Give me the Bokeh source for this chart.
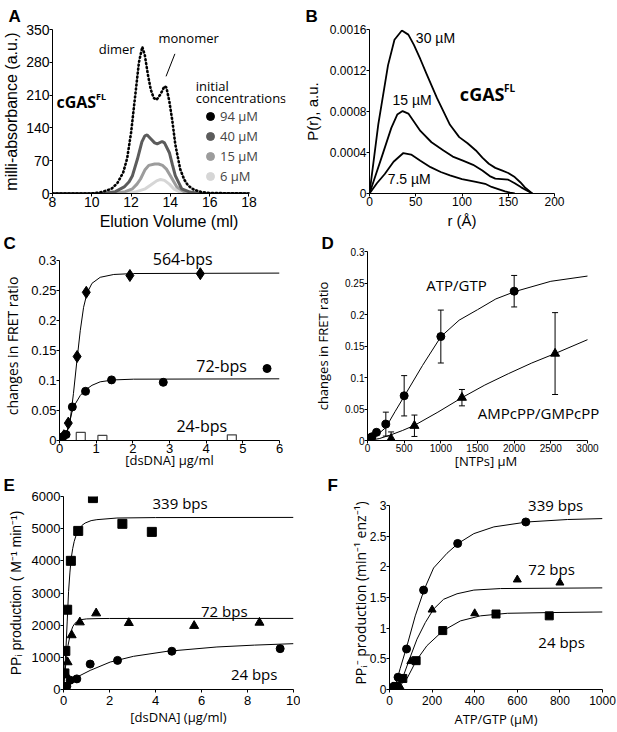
from bokeh.plotting import figure
from bokeh.layouts import column, row
from bokeh.models import (Range1d, FixedTicker, CustomJSTickFormatter, Label, Whisker,
                          ColumnDataSource, TeeHead, Legend, LegendItem)
from bokeh.embed import file_html
from bokeh.resources import INLINE

# ---------------- data ----------------
# A: size-exclusion profiles (elution volume ml, milli-absorbance)
a94_x = [8, 10.0, 10.5, 11.0, 11.3, 11.6, 11.8, 12.0, 12.2, 12.4, 12.57, 12.7, 12.85, 13.0, 13.15, 13.3, 13.5, 13.7, 13.8, 13.95, 14.1, 14.25, 14.5, 14.7, 14.9, 15.2, 15.6, 16, 18]
a94_y = [0, 0, 3, 10, 22, 45, 75, 130, 205, 280, 313, 295, 255, 222, 204, 200, 212, 229, 226, 196, 155, 105, 52, 30, 17, 8, 3, 1, 0]
a40_x = [8, 10.5, 11.2, 11.65, 11.9, 12.07, 12.32, 12.55, 12.7, 12.82, 13.0, 13.2, 13.33, 13.58, 13.7, 13.95, 14.1, 14.25, 14.58, 15.0, 15.5, 18]
a40_y = [0, 0, 4, 14, 25, 38, 73, 110, 123, 125, 117, 108, 106, 111, 108, 87, 62, 38, 10, 3, 0, 0]
a15_x = [8, 11.0, 11.7, 12.07, 12.3, 12.48, 12.7, 12.9, 13.2, 13.4, 13.6, 13.8, 14.0, 14.33, 14.7, 15.2, 18]
a15_y = [0, 0, 4, 10, 20, 31, 50, 60, 63, 63, 60, 52, 38, 14, 4, 0, 0]
a6_x = [8, 11.5, 12.2, 12.72, 13.0, 13.3, 13.5, 13.7, 13.95, 14.17, 14.5, 15.0, 18]
a6_y = [0, 0, 3, 10, 18, 27, 30, 28, 20, 10, 3, 0, 0]
a_labels = ["94 µM", "40 µM", "15 µM", "6 µM"]
a_colors = ["#000000", "#5c5c5c", "#9c9c9c", "#d6d6d6"]

# B: pair distance distributions P(r)
b30_r = [0, 9.5, 20, 27, 35, 42, 48, 55, 62, 73, 87, 97, 106, 115, 122, 129, 136, 143, 150, 157, 163, 168, 176]
b30_p = [0, 0.000675, 0.00125, 0.0015, 0.00159, 0.00155, 0.00145, 0.00131, 0.00116, 0.00093, 0.00067, 0.00055, 0.00049, 0.00042, 0.00035, 0.00029, 0.00025, 0.000225, 0.0002, 0.00016, 0.00011, 0.00006, 0]
b15_r = [0, 13, 23.6, 30, 35.8, 42, 55, 67, 80, 90, 101, 112, 122, 130, 136, 143, 150, 157, 164, 170, 176]
b15_p = [0, 0.00035, 0.00064, 0.00077, 0.000804, 0.00078, 0.00061, 0.0005, 0.00042, 0.00036, 0.00032, 0.00028, 0.000225, 0.00017, 0.000145, 0.00014, 0.000135, 0.0001, 0.00006, 0.00003, 0]
b7_r = [0, 8, 16.5, 26, 36.6, 45, 55, 66, 77, 87, 100, 115, 125, 132, 140, 146.5, 152, 157]
b7_p = [0, 0.0001, 0.00019, 0.00031, 0.000395, 0.00038, 0.00032, 0.000257, 0.00021, 0.000177, 0.00014, 0.000113, 0.000095, 0.000064, 0.00004, 0.00002, 0.000008, 0]

# C: FRET change vs dsDNA
c564_x = [0, 0.06, 0.12, 0.24, 0.48, 0.73, 1.92, 3.84]
c564_y = [0, 0.003, 0.008, 0.029, 0.14, 0.247, 0.275, 0.278]
c72_x = [0, 0.04, 0.09, 0.18, 0.35, 0.71, 1.42, 2.83, 5.66]
c72_y = [0, 0.003, 0.006, 0.01, 0.056, 0.082, 0.101, 0.097, 0.12]
c24_x = [0.58, 1.17, 4.7]
c24_y = [0.006, 0.001, 0.002]
c564_fit_x = [0, 0.11, 0.2, 0.29, 0.38, 0.475, 0.566, 0.657, 0.75, 0.886, 1.11, 1.48, 2.02, 6.0]
c564_fit_y = [0, 0.004, 0.014, 0.033, 0.078, 0.133, 0.183, 0.222, 0.2456, 0.262, 0.272, 0.2767, 0.2783, 0.279]
c72_fit_x = [0, 0.156, 0.246, 0.338, 0.43, 0.566, 0.703, 0.886, 1.11, 1.48, 2.02, 6.0]
c72_fit_y = [0, 0.0056, 0.022, 0.047, 0.061, 0.075, 0.084, 0.092, 0.0978, 0.101, 0.1022, 0.1028]

# D: FRET change vs NTPs
d_atp_x = [0, 31, 62, 123, 250, 500, 1000, 2000]
d_atp_y = [0, 0.004, 0.006, 0.013, 0.026, 0.071, 0.165, 0.237]
d_atp_err = [0, 0, 0, 0.003, 0.019, 0.032, 0.042, 0.025]
d_amp_x = [0, 322, 640, 1288, 2558]
d_amp_y = [0, 0.0026, 0.0234, 0.068, 0.138]
d_amp_err = [0, 0.011, 0.017, 0.013, 0.065]
d_atp_fit_x = [0, 60, 125, 250, 375, 505, 750, 1002, 1250, 1500, 1750, 2015, 2500, 3000]
d_atp_fit_y = [0, 0.002, 0.008, 0.0207, 0.0457, 0.071, 0.119, 0.165, 0.191, 0.2076, 0.2247, 0.2366, 0.2527, 0.261]
d_amp_fit_x = [0, 160, 320, 480, 640, 960, 1288, 1600, 1920, 2240, 2558, 3000]
d_amp_fit_y = [0, 0.003, 0.009, 0.016, 0.024, 0.045, 0.068, 0.088, 0.106, 0.123, 0.138, 0.160]

# E: PPi production vs dsDNA
e339_x = [0, 0.04, 0.08, 0.16, 0.32, 0.64, 1.28, 2.56, 3.84]
e339_y = [80, 500, 1200, 2480, 4000, 4930, 5950, 5150, 4900]
e72_x = [0, 0.089, 0.1775, 0.355, 0.71, 1.42, 2.84, 5.68, 8.52]
e72_y = [0, 480, 850, 1690, 2090, 2370, 2070, 1980, 2080]
e24_x = [0, 0.073, 0.145, 0.29, 0.58, 1.16, 2.35, 4.71, 9.42]
e24_y = [0, 50, 100, 290, 330, 790, 905, 1190, 1270]
e339_fit_x = [0, 0.05, 0.10, 0.16, 0.22, 0.28, 0.335, 0.4, 0.465, 0.55, 0.65, 0.8, 0.94, 1.2, 1.45, 2.32, 4, 10]
e339_fit_y = [0, 600, 1166, 2100, 3040, 3650, 4082, 4380, 4603, 4800, 4968, 5100, 5175, 5250, 5280, 5331, 5345, 5350]
e72_fit_x = [0, 0.05, 0.1, 0.2, 0.3, 0.4, 0.5, 0.65, 0.8, 1.0, 1.5, 2, 10]
e72_fit_y = [0, 420, 800, 1380, 1740, 1950, 2060, 2140, 2175, 2195, 2205, 2208, 2210]
e24_fit_x = [0, 0.1, 0.29, 0.58, 1.16, 2.03, 3.04, 4.5, 6.67, 8.3, 10]
e24_fit_y = [0, 90, 228, 384, 594, 853, 1031, 1187, 1322, 1380, 1425]

# F: PPi production vs ATP/GTP
f339_x = [0, 20, 40, 80, 160, 320, 640]
f339_y = [0, 0.05, 0.2, 0.66, 1.62, 2.38, 2.73]
f72_x = [0, 25, 37.5, 50, 100, 200, 400, 600, 800]
f72_y = [0, 0.02, 0.04, 0.04, 0.46, 1.3, 1.24, 1.79, 1.74]
f24_x = [0, 15, 31, 62.5, 125, 250, 500, 750]
f24_y = [0, 0.02, 0.05, 0.18, 0.47, 0.96, 1.23, 1.2]
f339_fit_x = [0, 27, 50, 82, 121, 163, 207, 270, 322, 396, 490, 647, 836, 1000]
f339_fit_y = [0, 0.053, 0.34, 0.71, 1.2, 1.63, 1.98, 2.22, 2.38, 2.54, 2.65, 2.73, 2.77, 2.785]
f72_fit_x = [0, 35, 66, 97.5, 129, 168, 207, 254, 317, 396, 521, 1000]
f72_fit_y = [0, 0.043, 0.23, 0.53, 0.82, 1.09, 1.31, 1.47, 1.56, 1.62, 1.645, 1.656]
f24_fit_x = [0, 42, 82, 126, 176, 251, 333, 427, 553, 741, 1000]
f24_fit_y = [0, 0.043, 0.177, 0.473, 0.715, 0.957, 1.118, 1.2, 1.242, 1.253, 1.263]

# ---------------- helpers ----------------
TICKF = "Liberation Sans"
SANS = "Open Sans"
FMT = "return String(+tick.toFixed(6));"


def make_fig(w, h, xr, yr, xt, yt, borders, tick_size, xlabel, ylabel,
             xfont, yfont, xsize, ysize, letter, letter_off, letter_standoff,
             x_std=(0, 0), y_std=(0, 0), xbounds=None, ybounds=None):
    bl, br, bt, bb = borders
    p = figure(width=w, height=h, x_range=Range1d(*xr), y_range=Range1d(*yr),
               output_backend="svg", toolbar_location=None,
               min_border_left=bl, min_border_right=br,
               min_border_top=bt, min_border_bottom=bb)
    p.xgrid.visible = False
    p.ygrid.visible = False
    p.outline_line_color = None
    p.background_fill_color = "white"
    p.border_fill_color = "white"
    p.title.text = letter
    p.title.text_font = TICKF
    p.title.text_font_size = "17px"
    p.title.text_font_style = "bold"
    p.title.text_color = "black"
    p.title.align = "left"
    p.title.offset = letter_off
    p.title.standoff = letter_standoff
    for ax, ticks, lab, font, size, std, bnds in (
            (p.xaxis[0], xt, xlabel, xfont, xsize, x_std, xbounds),
            (p.yaxis[0], yt, ylabel, yfont, ysize, y_std, ybounds)):
        ax.ticker = FixedTicker(ticks=ticks)
        ax.formatter = CustomJSTickFormatter(code=FMT)
        ax.major_label_text_font = TICKF
        ax.major_label_text_font_size = f"{tick_size}px"
        ax.major_label_text_color = "black"
        ax.major_tick_in = 0
        ax.major_tick_out = 3
        ax.minor_tick_in = 0
        ax.minor_tick_out = 0
        ax.axis_line_color = "black"
        ax.major_tick_line_color = "black"
        ax.axis_label = lab
        ax.axis_label_text_font = font
        ax.axis_label_text_font_size = f"{size}px"
        ax.axis_label_text_font_style = "normal"
        ax.axis_label_text_color = "black"
        ax.major_label_standoff = std[0]
        ax.axis_label_standoff = std[1]
        if bnds is not None:
            ax.bounds = bnds
    return p


def txt(p, x, y, s, size, font=SANS, style="normal", align="center", baseline="middle"):
    p.add_layout(Label(x=x, y=y, text=s, text_font=font, text_font_size=f"{size}px",
                       text_font_style=style, text_align=align,
                       text_baseline=baseline, text_color="black"))


# ---------------- A ----------------
pa = make_fig(300, 232, (8, 19.86), (0, 350), list(range(8, 19, 2)), list(range(0, 351, 70)),
              (49, 15, 29, 36), 14, "Elution Volume (ml)", "milli-absorbance (a.u.)",
              TICKF, TICKF, 16, 16, "A", -44, 8, x_std=(0, 3), y_std=(0, 3),
              xbounds=(8, 18))
pa.line(a6_x, a6_y, line_color=a_colors[3], line_width=3)
pa.line(a15_x, a15_y, line_color=a_colors[2], line_width=3)
pa.line(a40_x, a40_y, line_color=a_colors[1], line_width=3)
pa.line(a94_x, a94_y, line_color=a_colors[0], line_width=2.6, line_dash="1 3", line_cap="round")
key_r = []
for xs, ys, c in ((a94_x, a94_y, a_colors[0]), (a40_x, a40_y, a_colors[1]),
                  (a15_x, a15_y, a_colors[2]), (a6_x, a6_y, a_colors[3])):
    key_r.append(pa.scatter(xs, ys, size=9, color=c, visible=False))
leg = Legend(items=[LegendItem(label=l, renderers=[r]) for l, r in zip(a_labels, key_r)],
             location=(148, 7), orientation="vertical", padding=0, margin=0, spacing=0,
             glyph_width=20, glyph_height=20, label_height=20, label_standoff=0,
             border_line_color=None, background_fill_alpha=0,
             label_text_font=SANS, label_text_font_size="13px")
pa.add_layout(leg)
txt(pa, 15.29, 229, "initial", 13, align="left")
txt(pa, 15.29, 204, "concentrations", 13, align="left")
txt(pa, 11.27, 308, "dimer", 13)
txt(pa, 14.93, 331, "monomer", 13)
pa.segment(x0=[14.23], y0=[298], x1=[13.78], y1=[250], line_color="black", line_width=1)
txt(pa, 8.2, 196, "cGAS", 16, style="bold", align="left")
txt(pa, 10.22, 206, "FL", 9, style="bold", align="left")

# ---------------- B ----------------
pb = make_fig(317, 232, (0, 200), (0, 0.0016), [0, 50, 100, 150, 200],
              [0, 0.0004, 0.0008, 0.0012, 0.0016], (64, 63, 29, 36), 12,
              "r (Å)", "P(r), a.u.", TICKF, TICKF, 15, 15, "B", -64, 8,
              x_std=(0, 3), y_std=(0, 6))
for rr, pp in ((b30_r, b30_p), (b15_r, b15_p), (b7_r, b7_p)):
    pb.line(rr, pp, line_color="black", line_width=1.8)
txt(pb, 71.3, 0.00152, "30 µM", 14, font=TICKF)
txt(pb, 46, 0.000913, "15 µM", 14, font=TICKF)
txt(pb, 42.9, 0.000142, "7.5 µM", 14, font=TICKF)
txt(pb, 97.7, 0.00097, "cGAS", 18, style="bold", align="left")
txt(pb, 145.5, 0.00103, "FL", 10, style="bold", align="left")

# ---------------- C ----------------
pc = make_fig(300, 240, (0, 6), (0, 0.315), list(range(0, 7)),
              [0, 0.05, 0.1, 0.15, 0.2, 0.25, 0.3], (59, 21, 19, 32), 13,
              "[dsDNA] µg/ml", "changes in FRET ratio", SANS, SANS, 13, 14, "C", -56, -2,
              x_std=(0, -5), y_std=(0, 6), ybounds=(0, 0.3))
pc.line(c564_fit_x, c564_fit_y, line_color="black", line_width=1)
pc.line(c72_fit_x, c72_fit_y, line_color="black", line_width=1)
pc.scatter(c564_x, c564_y, marker="diamond", size=12, color="black")
pc.scatter(c72_x, c72_y, marker="circle", size=8, color="black")
pc.scatter(c24_x, c24_y, marker="square", size=9, fill_color="white",
           line_color="#444444", line_width=1.2)
txt(pc, 3.36, 0.3033, "564-bps", 16)
txt(pc, 4.42, 0.125, "72-bps", 16)
txt(pc, 3.88, 0.025, "24-bps", 16)

# ---------------- D ----------------
pd_ = make_fig(317, 240, (0, 3232), (0, 0.3), list(range(0, 3001, 500)),
               [0, 0.05, 0.1, 0.15, 0.2, 0.25, 0.3], (67, 13, 19, 32), 10,
               "[NTPs] µM", "changes in FRET ratio", SANS, SANS, 13, 13, "D", -46, -2,
               x_std=(0, -3), y_std=(0, 10), xbounds=(0, 3000))
pd_.line(d_atp_fit_x, d_atp_fit_y, line_color="black", line_width=1)
pd_.line(d_amp_fit_x, d_amp_fit_y, line_color="black", line_width=1)
for xs, ys, es in ((d_atp_x, d_atp_y, d_atp_err), (d_amp_x, d_amp_y, d_amp_err)):
    src = ColumnDataSource(dict(base=xs, upper=[y + e for y, e in zip(ys, es)],
                                lower=[y - e for y, e in zip(ys, es)]))
    pd_.add_layout(Whisker(source=src, base="base", upper="upper", lower="lower",
                           line_color="black", line_width=1,
                           upper_head=TeeHead(size=6, line_color="black", line_width=1),
                           lower_head=TeeHead(size=6, line_color="black", line_width=1)))
pd_.scatter(d_atp_x, d_atp_y, marker="circle", size=8, color="black")
pd_.scatter(d_amp_x, d_amp_y, marker="triangle", size=9, color="black")
txt(pd_, 1214, 0.2463, "ATP/GTP", 15)
txt(pd_, 2332, 0.0442, "AMPcPP/GMPcPP", 15)

# ---------------- E ----------------
pe = make_fig(300, 260, (0, 10), (0, 6000), list(range(0, 11, 2)),
              list(range(0, 6001, 1000)), (63, 7, 24, 43), 13,
              "[dsDNA] (µg/ml)", "PPᵢ production ( M⁻¹ min⁻¹)", SANS, TICKF, 13, 14, "E", -60, 3,
              x_std=(3, 0), y_std=(0, 5))
pe.line(e339_fit_x, e339_fit_y, line_color="black", line_width=1)
pe.line(e72_fit_x, e72_fit_y, line_color="black", line_width=1)
pe.line(e24_fit_x, e24_fit_y, line_color="black", line_width=1)
pe.scatter(e339_x, e339_y, marker="square", size=9, color="black")
pe.scatter(e72_x, e72_y, marker="triangle", size=9, color="black")
pe.scatter(e24_x, e24_y, marker="circle", size=8, color="black")
txt(pe, 5.07, 5790, "339 bps", 15)
txt(pe, 6.99, 2447, "72 bps", 15)
txt(pe, 8.29, 478, "24 bps", 15)

# ---------------- F ----------------
pf = make_fig(317, 260, (0, 1000), (0, 3.145), list(range(0, 1001, 200)),
              [0, 0.5, 1, 1.5, 2, 2.5, 3], (89, 15, 24, 43), 12,
              "ATP/GTP (µM)", "PPᵢ⁻ production (min⁻¹ enz⁻¹)", SANS, SANS, 13, 14, "F", -62, 3,
              x_std=(3, 2), y_std=(0, -3), ybounds=(0, 3))
pf.line(f339_fit_x, f339_fit_y, line_color="black", line_width=1)
pf.line(f72_fit_x, f72_fit_y, line_color="black", line_width=1)
pf.line(f24_fit_x, f24_fit_y, line_color="black", line_width=1)
pf.scatter(f339_x, f339_y, marker="circle", size=8, color="black")
pf.scatter(f72_x, f72_y, marker="triangle", size=8, color="black")
pf.scatter(f24_x, f24_y, marker="square", size=8, color="black")
txt(pf, 780, 3.0, "339 bps", 15)
txt(pf, 761, 1.97, "72 bps", 15)
txt(pf, 808, 0.77, "24 bps", 15)

page = column(row(pa, pb), row(pc, pd_), row(pe, pf))
open("out.html", "w").write(file_html(page, INLINE))
